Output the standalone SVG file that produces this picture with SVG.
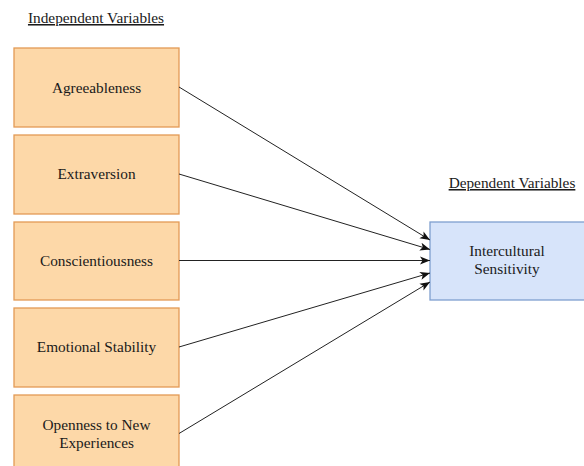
<svg xmlns="http://www.w3.org/2000/svg" width="584" height="466" viewBox="0 0 584 466" font-family="'Liberation Serif', 'Times New Roman', Times, serif">
<style>
.iv rect{fill:#fdd8a8;stroke:#e39a55;stroke-width:1.3}
.dv rect{fill:#d7e4fa;stroke:#7f9fcf;stroke-width:1.3}
text{font-size:15.3px;fill:#1a1a1a;text-anchor:middle}
.hd{text-decoration:underline}
#connectors line{stroke:#222;stroke-width:1;fill:none}
</style>
<defs>
<marker id="arr" viewBox="0 0 10 10" refX="10" refY="5" markerWidth="10" markerHeight="10" markerUnits="userSpaceOnUse" orient="auto">
<path d="M0,1 L10,5 L0,9 L2.5,5 Z" fill="#111"/>
</marker>
</defs>
<rect width="584" height="466" fill="#fff"/>
<g id="title-iv"><text class="hd" x="96" y="23">Independent Variables</text></g>
<g id="title-dv"><text class="hd" x="512" y="188">Dependent Variables</text></g>
<g id="n1" class="iv"><rect x="14" y="48" width="165" height="79"/><text x="96.5" y="92.5">Agreeableness</text></g>
<g id="n2" class="iv"><rect x="14" y="135" width="165" height="79"/><text x="96.5" y="179">Extraversion</text></g>
<g id="n3" class="iv"><rect x="14" y="222" width="165" height="78"/><text x="96.5" y="265.5">Conscientiousness</text></g>
<g id="n4" class="iv"><rect x="14" y="308" width="165" height="79"/><text x="96.5" y="352">Emotional Stability</text></g>
<g id="n5" class="iv"><rect x="14" y="395" width="165" height="79"/><text x="96.5" y="430">Openness to New</text><text x="96.5" y="448">Experiences</text></g>
<g id="dv" class="dv"><rect x="430" y="222" width="160" height="78"/><text x="507" y="256">Intercultural</text><text x="507" y="274">Sensitivity</text></g>
<g id="connectors">
<line x1="179" y1="87" x2="430" y2="240" marker-end="url(#arr)"/>
<line x1="179" y1="174" x2="430" y2="249.5" marker-end="url(#arr)"/>
<line x1="179" y1="260.5" x2="430" y2="260.5" marker-end="url(#arr)"/>
<line x1="179" y1="347" x2="430" y2="273" marker-end="url(#arr)"/>
<line x1="179" y1="433.5" x2="430" y2="282" marker-end="url(#arr)"/>
</g>
</svg>
